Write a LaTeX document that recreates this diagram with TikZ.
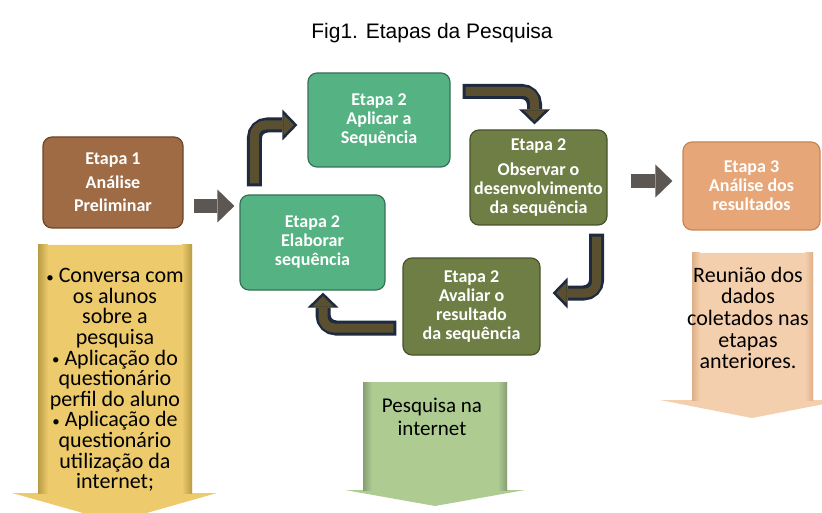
\documentclass[tikz,border=0pt]{standalone}
\usepackage{fontspec}
\setmainfont{Carlito}
\newfontfamily\titlefont{Liberation Sans}
\usepackage{xcolor}
\usepackage{tikz}
\usetikzlibrary{
  arrows.meta,
  positioning,
  calc
}
\setlength{\lineskiplimit}{-20pt}
\newcommand{\blt}{{\fontsize{15}{15}\selectfont\raisebox{0.5pt}{•}}\ }

\definecolor{etapaone}{HTML}{9E6B45}
\definecolor{etapaoneline}{HTML}{6E4526}
\definecolor{etapagreen}{HTML}{55B283}
\definecolor{etapagreenline}{HTML}{367255}
\definecolor{etapaolive}{HTML}{6E7E45}
\definecolor{etapaoliveline}{HTML}{475229}
\definecolor{etapathree}{HTML}{E7A678}
\definecolor{etapathreeline}{HTML}{C68656}
\definecolor{yelarrow}{HTML}{EDCB6C}
\definecolor{yelside}{HTML}{B89B45}
\definecolor{grnarrow}{HTML}{AECB92}
\definecolor{grnside}{HTML}{879E72}
\definecolor{pcharrow}{HTML}{F4CFAD}
\definecolor{pchside}{HTML}{DDAF87}
\definecolor{arrnavy}{HTML}{1E2A40}
\definecolor{arrolive}{HTML}{5A4F2E}
\definecolor{arrgray}{HTML}{5C5752}

\begin{document}
\begin{tikzpicture}[
  x=1pt, y=-1pt,
  etapa/.style={draw, rounded corners=9, line width=1.2, text=white, align=center,
    inner sep=0, font=\fontsize{18}{19}\selectfont\bfseries},
  e1/.style={etapa, fill=etapaone, draw=etapaoneline},
  e2/.style={etapa, fill=etapagreen, draw=etapagreenline},
  e2b/.style={etapa, fill=etapaolive, draw=etapaoliveline},
  e3/.style={etapa, fill=etapathree, draw=etapathreeline},
  note/.style={align=center, font=\fontsize{22}{20.6}\selectfont},
  curvout/.style={line width=15, draw=arrnavy, rounded corners=13,
    -{Triangle[length=15pt, width=31pt, line width=0pt]}},
  curvin/.style={line width=9, draw=arrolive, rounded corners=11,
    shorten <=3pt, shorten >=3.5pt,
    -{Triangle[length=10.5pt, width=21pt, line width=0pt]}},
  grayarrow/.style={line width=14, draw=arrgray,
    -{Triangle[length=17pt, width=33pt, line width=0pt]}}
]
  \useasboundingbox (0,0) rectangle (822,513);

  % title
  \node[font=\titlefont\fontsize{21}{24}\selectfont] (title) at (432,33) {Fig1. Etapas da Pesquisa};

  % down arrows
  \fill[yelarrow] (38,245) -- (192,245) -- (192,493) -- (217,493) -- (115,522) -- (12,493) -- (38,493) -- cycle;
  \shade[left color=yelside, right color=yelarrow] (38,245) rectangle (48,493);
  \shade[left color=yelarrow, right color=yelside] (182,245) rectangle (192,493);

  \fill[grnarrow] (363,382) -- (507,382) -- (507,490) -- (525,490) -- (435,506) -- (345,490) -- (363,490) -- cycle;
  \shade[left color=grnside, right color=grnarrow] (363,382) rectangle (372,490);
  \shade[left color=grnarrow, right color=grnside] (498,382) rectangle (507,490);

  \fill[pcharrow] (692,253) -- (813,253) -- (813,400) -- (845,400) -- (752,418) -- (660,400) -- (692,400) -- cycle;
  \shade[left color=pchside, right color=pcharrow] (692,253) rectangle (700,400);
  \shade[left color=pcharrow, right color=pchside] (805,253) rectangle (813,400);

  % texts in the arrows
  \node[note] (conversa) at (115,380) {\blt Conversa com\\os alunos\\sobre a\\pesquisa\\\blt Aplicação do\\questionário\\perfil do aluno\\\blt Aplicação de\\questionário\\utilização da\\internet;};
  \node[note, font=\fontsize{21}{23}\selectfont] (pesquisa) at (432,416.5) {Pesquisa na\\internet};
  \node[note, font=\fontsize{22}{21.7}\selectfont] (reuniao) at (748,318) {Reunião dos\\dados\\coletados nas\\etapas\\anteriores.};

  % stages
  \node[e1, minimum width=140, minimum height=91] (etapa1) at (113,182.5) {Etapa 1\\[4.5pt]Análise\\[4.5pt]Preliminar};
  \node[e2, minimum width=145, minimum height=95] (elaborar) at (312.5,242.5) {Etapa 2\\Elaborar\\sequência};
  \node[e2, minimum width=142, minimum height=94] (aplicar) at (379,120) {Etapa 2\\Aplicar a\\Sequência};
  \node[e2b, minimum width=137, minimum height=95] (observar) at (538.5,177.5) {Etapa 2\\[6pt]Observar o\\desenvolvimento\\da sequência};
  \node[e2b, minimum width=137, minimum height=97] (avaliar) at (471.5,306.5) {Etapa 2\\Avaliar o\\resultado\\da sequência};
  \node[e3, minimum width=137, minimum height=88] (etapa3) at (751.5,186) {Etapa 3\\Análise dos\\resultados};

  % straight arrows
  \draw[grayarrow] ([xshift=10,yshift=-23.5]etapa1.east) -- ([xshift=-5,yshift=36.5]elaborar.west);
  \draw[grayarrow] ([xshift=23,yshift=-3.5]observar.east) -- ([xshift=-10,yshift=5]etapa3.west);

  % cycle arrows
  \coordinate (c1a) at ([xshift=15,yshift=8]elaborar.north west);
  \coordinate (c1b) at ([xshift=-10,yshift=-5]aplicar.west);
  \coordinate (c2a) at ([xshift=12,yshift=-19]aplicar.north east);
  \coordinate (c2b) at ([xshift=-4,yshift=5]observar.north);
  \coordinate (c3a) at ([xshift=-11,yshift=-8]observar.south east);
  \coordinate (c3b) at ([xshift=12,yshift=13.5]avaliar.east);
  \coordinate (c4a) at ([xshift=-6,yshift=-21.5]avaliar.west);
  \coordinate (c4b) at ([xshift=10.5,yshift=-2]elaborar.south);

  \draw[curvout] (c1a) |- (c1b);
  \draw[curvin] (c1a) |- (c1b);
  \draw[curvout] (c2a) -| (c2b);
  \draw[curvin] (c2a) -| (c2b);
  \draw[curvout] (c3a) |- (c3b);
  \draw[curvin] (c3a) |- (c3b);
  \draw[curvout] (c4a) -| (c4b);
  \draw[curvin] (c4a) -| (c4b);

\end{tikzpicture}
\end{document}
